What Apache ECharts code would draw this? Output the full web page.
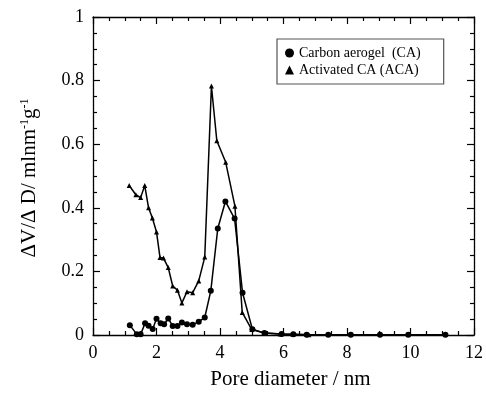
<!DOCTYPE html>
<html>
<head>
<meta charset="utf-8">
<script src="https://cdn.jsdelivr.net/npm/echarts@6/dist/echarts.min.js"></script>
<style>html,body{margin:0;padding:0;background:#fff}#c{width:486px;height:395px}</style>
</head>
<body>
<div id="c"></div>
<script>
var caX = [1.16,1.38,1.50,1.64,1.75,1.88,2.0,2.13,2.24,2.37,2.51,2.66,2.80,2.96,3.14,3.33,3.52,3.71,3.93,4.17,4.46,4.71,5.02,5.4,5.94,6.31,6.73,7.41,8.12,9.04,9.93,11.1];
var caY = [0.031,0.002,0.002,0.037,0.029,0.019,0.051,0.037,0.034,0.052,0.028,0.028,0.039,0.034,0.032,0.042,0.055,0.139,0.335,0.42,0.366,0.133,0.018,0.006,0.003,0.002,0.001,0.001,0.001,0.001,0.001,0.001];
var acaX = [1.14,1.35,1.50,1.63,1.75,1.87,2.0,2.11,2.22,2.37,2.51,2.66,2.80,2.96,3.14,3.33,3.52,3.73,3.90,4.18,4.47,4.70,5.0,5.4,5.9,6.3,6.8];
var acaY = [0.47,0.441,0.432,0.47,0.40,0.368,0.324,0.244,0.242,0.212,0.154,0.141,0.101,0.136,0.133,0.170,0.245,0.783,0.611,0.543,0.405,0.071,0.017,0.006,0.003,0.002,0.001];
var xTicks = [0,2,4,6,8,10,12];
var yTicks = [0,0.2,0.4,0.6,0.8,1];
var seriesNames = ['Carbon aerogel  (CA)', 'Activated CA (ACA)'];

function pairs(xs, ys){ return xs.map(function(x,i){ return [x, ys[i]]; }); }
var font = 'Liberation Serif, Times New Roman, serif';
var chart = echarts.init(document.getElementById('c'), null, {renderer:'canvas'});
var axisLine = {show:true, onZero:false, lineStyle:{color:'#000', width:1.3}};
var tick = {show:true, inside:true, length:7, lineStyle:{color:'#000', width:1.2}};
var minor = {show:true, splitNumber:4, length:4, lineStyle:{color:'#000', width:1.2}};
chart.setOption({
  animation:false,
  backgroundColor:'#fff',
  grid:{left:93, right:12, top:17, bottom:60, containLabel:false},
  legend:{
    orient:'vertical', left:277, top:39,
    padding:[7,23,7,8], itemGap:3, itemWidth:9, itemHeight:9,
    borderColor:'#555', borderWidth:1.2, backgroundColor:'#fff',
    textStyle:{fontFamily:font, fontSize:14, color:'#000'},
    data:[{name:seriesNames[0], icon:'circle'},{name:seriesNames[1], icon:'triangle'}]
  },
  xAxis:[{
    type:'value', min:0, max:12, interval:2, position:'bottom',
    name:'Pore diameter / nm', nameLocation:'middle', nameGap:34,
    nameTextStyle:{fontFamily:font, fontSize:21, color:'#000', padding:[0,0,0,14]},
    axisLine:axisLine, axisTick:tick, minorTick:minor, splitLine:{show:false},
    axisLabel:{fontFamily:font, fontSize:18, color:'#000', margin:9,
      formatter:function(v){ return xTicks.indexOf(v)>=0 ? String(v) : ''; }}
  },{
    type:'value', min:0, max:12, interval:2, position:'top',
    axisLine:axisLine, axisTick:tick, minorTick:minor, splitLine:{show:false}, axisLabel:{show:false}
  }],
  yAxis:[{
    type:'value', min:0, max:1, interval:0.2, position:'left',
    name:'ΔV/Δ D/ mlnm{s|-1}g{s|-1}', nameLocation:'middle', nameGap:53, nameRotate:90,
    nameTextStyle:{fontFamily:font, fontSize:21, color:'#000', padding:[0,4,0,0],
      rich:{s:{fontFamily:font, fontSize:12, color:'#000', verticalAlign:'top', padding:[0,0,9,0]}}},
    axisLine:axisLine, axisTick:tick, minorTick:minor, splitLine:{show:false},
    axisLabel:{fontFamily:font, fontSize:18, color:'#000', margin:9,
      formatter:function(v){ return yTicks.indexOf(Math.round(v*10)/10)>=0 ? String(Math.round(v*10)/10) : ''; }}
  },{
    type:'value', min:0, max:1, interval:0.2, position:'right',
    axisLine:axisLine, axisTick:tick, minorTick:minor, splitLine:{show:false}, axisLabel:{show:false}
  }],
  series:[{
    name:seriesNames[0], type:'line', data:pairs(caX, caY),
    symbol:'circle', symbolSize:6, clip:false,
    itemStyle:{color:'#000'}, lineStyle:{color:'#000', width:1.5}
  },{
    name:seriesNames[1], type:'line', data:pairs(acaX, acaY),
    symbol:'triangle', symbolSize:5, clip:false,
    itemStyle:{color:'#000'}, lineStyle:{color:'#000', width:1.5}
  }]
});
</script>
</body>
</html>
